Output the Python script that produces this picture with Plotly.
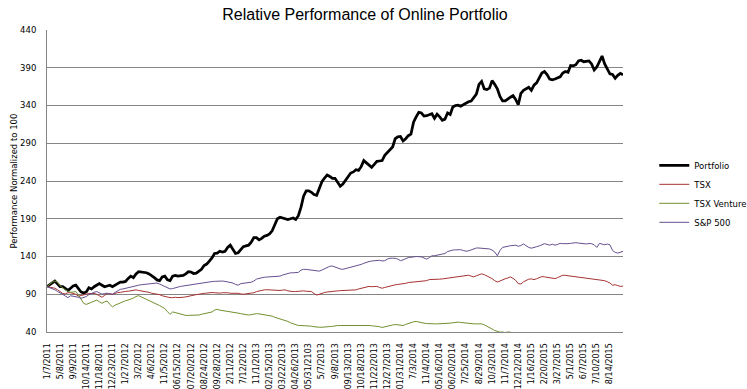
import plotly.graph_objects as go

tick_labels = ["1/7/2011", "5/8/2011", "9/9/2011", "10/14/2011", "11/18/2011", "12/23/2011",
               "1/27/2012", "3/2/2012", "4/6/2012", "11/5/2012", "06/15/2012", "07/20/2012",
               "08/24/2012", "09/28/2012", "2/11/2012", "7/12/2012", "11/1/2013", "02/15/2013",
               "03/22/2013", "04/26/2013", "05/31/2103", "5/7/2013", "9/8/2013", "09/13/2013",
               "10/18/2013", "11/22/2013", "12/27/2013", "01/31/2014", "7/3/2014", "11/4/2014",
               "05/16/2014", "06/20/2014", "7/25/2014", "8/29/2014", "10/3/2014", "11/7/2014",
               "12/12/2014", "1/16/2015", "2/20/2015", "3/27/2015", "5/1/2015", "6/7/2015",
               "7/10/2015", "8/14/2015"]
weeks_per_label = 5

portfolio = [100, 103, 105, 107.5, 104, 100, 100, 98, 95, 98, 101, 102, 97, 93, 91.5, 93, 98.5, 97, 100, 102,
             104, 102, 100, 101, 102, 100, 102, 104.5, 106, 106, 107, 111, 114, 112, 117, 120, 119.5, 119, 118.5, 117,
             115, 112, 109, 108, 113, 114, 109, 108, 114, 115, 114, 114, 115, 117, 120, 119.5, 117.5, 118, 120, 123,
             128, 130, 134, 138, 144, 144.5, 147, 146, 147, 152, 155, 149, 144, 145, 149, 153, 154, 155, 159, 165,
             165, 162, 164, 167, 168, 170, 174, 181, 190, 192, 191, 189, 189, 190, 191, 189, 194, 205, 220, 227,
             227, 225, 222, 221, 229, 239, 244, 248, 246, 243.5, 243.5, 238, 233, 236, 241, 247, 250.5, 252, 255, 254,
             259, 267, 264, 261, 258, 262, 266, 266.5, 267, 274, 278, 281, 285, 296, 298.5, 299, 293, 296, 300, 302,
             318, 325, 331, 330, 326, 326.5, 328, 329, 323, 328.5, 325, 320.5, 322, 330, 328, 338, 340, 340.5, 339, 341,
             343.5, 345, 346, 350, 355, 368, 372, 362, 361, 363, 373, 368, 362, 352, 346, 346, 349, 351, 353, 348,
             341, 356, 360, 362, 364, 360, 367, 370, 377, 383, 385, 381, 375, 374, 375, 376, 378, 383, 385, 384,
             393, 392.5, 394, 399, 400, 398, 399, 399, 395, 387, 391, 398, 405.5, 395, 389, 382, 381, 376, 380, 382.5,
             380.5]

tsx = [100, 99.5, 99, 98, 96, 93.5, 91, 90.5, 92, 92, 91.5, 90, 87.5, 88, 89, 90, 91, 91.3, 91, 90,
       88, 86, 88.5, 91, 90.5, 90, 91, 92.3, 92.5, 93.5, 93.8, 94, 94.5, 95, 95.8, 95, 94.5, 94, 93.6, 92.5,
       91.3, 91, 90.5, 89.5, 88, 87, 86, 85.5, 85.5, 86, 85.5, 85.5, 86, 86.5, 87.5, 88.2, 89, 89.5, 90, 91,
       91.3, 91.5, 92, 92.3, 92, 91.3, 91.5, 92, 92.3, 92, 91.3, 91.5, 91, 91.3, 90.5, 90, 90.5, 91, 91.3, 92,
       93.5, 94.5, 95, 95.8, 96, 95.8, 95.5, 95, 94.5, 95, 95.5, 95.8, 94.5, 93.6, 93.5, 93.6, 94, 94, 94.5, 94,
       94, 93.6, 91, 89, 90, 91.5, 92.3, 93, 93.6, 93.8, 94.2, 94.5, 94.8, 95, 95.3, 95.5, 95.8, 95.8, 95.8, 97,
       98, 99, 99.5, 100.4, 100, 100.4, 100.4, 99, 98, 99, 100, 100.4, 101.5, 102.5, 103, 103.2, 103.5, 104.5, 105.5, 105.8,
       106, 106.2, 106.5, 107, 107.2, 108, 109.4, 109.4, 109, 109.4, 110, 110.3, 110.8, 111, 111.6, 112.5, 113.4, 113.5, 113.5, 113.9,
       114.5, 115.2, 114, 113, 114.5, 116, 117, 116, 114.5, 112.5, 110.7, 108, 106.2, 107.5, 109.4, 110.5, 111.5, 113, 111, 108.5,
       104, 103.5, 106.5, 108, 110, 110.3, 109.4, 110.5, 112, 113.4, 113, 112.5, 112, 111.5, 110.7, 112, 114, 115.2, 115, 114.5,
       113.9, 113.5, 113, 112.5, 112, 111.6, 111, 110.5, 110, 109.8, 109.4, 109, 108.5, 108, 106.5, 105, 102, 102.6, 101.5, 100.4,
       100.8]

tsx_venture = [100, 103, 106, 107.5, 106, 101, 98, 96, 94, 92.7, 93, 93.6, 89, 83, 78, 76.5, 78, 80, 81.5, 82.3,
               80, 78, 80, 81, 76.5, 73.3, 75.5, 77, 79, 80.5, 81.5, 82.3, 83.5, 85, 87, 88.2, 86.5, 85, 83, 81.5,
               80, 78.5, 77, 75, 73, 71, 67, 63.4, 66.6, 65.5, 64.3, 63.5, 62.5, 62, 62, 62.1, 62, 62.1, 62.5, 63.5,
               64.3, 64.5, 65, 66.5, 69, 70, 69, 68.5, 68, 67.5, 67, 66.8, 66, 65, 64.3, 63.5, 62.5, 62.5, 63, 64,
               64.3, 64, 63.5, 63, 62.5, 62.1, 61, 59.5, 58.5, 57.5, 57, 55.5, 54, 52.2, 51, 49.5, 48.6, 48.6, 48.6, 48.6,
               48, 47.7, 47, 46.3, 46.3, 46.3, 46.3, 46.8, 47.2, 47.5, 48.3, 48.6, 48.6, 48.6, 48.8, 48.6, 48.6, 49, 49.4, 49,
               48.6, 48.6, 48.6, 48.6, 48.3, 48, 47.7, 47, 46, 47, 48, 48.6, 49.3, 49.9, 49.5, 49, 48.6, 50, 51.3, 52.5,
               53.5, 54, 53, 52, 51.7, 51.2, 50.8, 50.8, 50.8, 50.8, 50.8, 50.8, 51, 51.4, 51.7, 52.2, 52.7, 53.1, 52.7, 52.2,
               51.8, 51, 50.8, 50.8, 50.8, 50.8, 50.8, 49.5, 48, 46.3, 44, 42, 40.5, 39.8, 40, 39.3, 40, 39.8, 38.5, 37.5,
               37, 36.5, 36.8, 37, 36.5, 36, 36.2, 36.5, 36, 35.5, 35.8, 36, 35.5, 35, 35.3, 35.5, 35, 34.8, 35, 35.2,
               35, 34.5, 34.8, 35, 34.5, 34.2, 34.5, 34, 33.8, 34, 33.5, 33, 33.2, 33.5, 33, 32.5, 32.8, 32.5, 32, 32.2,
               32]

sp500 = [100, 99, 98, 96, 93.6, 92, 90, 87.5, 85.5, 88, 87.5, 87, 86, 84.6, 86, 87, 89.5, 91.3, 92.5, 93.6,
         92, 90, 91, 91.3, 90.5, 90, 92.5, 94.5, 96.5, 97, 98, 98.8, 99.5, 100.5, 101.7, 102, 102.6, 103, 103.5, 103.5,
         103.8, 104.5, 104.9, 103.5, 102, 101, 99, 97, 97.5, 99, 99.5, 100.4, 101, 101.7, 102, 102.6, 103, 103.5, 104.2, 104.9,
         105.3, 105.8, 106.3, 106.8, 107.1, 107.5, 108, 107.5, 107, 106.2, 105.5, 104.9, 103, 102, 104, 104.3, 104.7, 105, 106, 107.5,
         110, 111, 112, 112.5, 112.8, 113, 113, 113, 113, 114, 115.5, 116.5, 117.5, 118.4, 118.4, 118.4, 119, 122, 123, 122.9,
         122.5, 122, 121.5, 121, 120.6, 122, 124, 125.5, 127, 127.4, 126, 124.5, 123.5, 123, 123.8, 125, 125.8, 126.8, 127.6, 128.3,
         129.5, 131, 132.5, 133.3, 134, 134.5, 134.8, 135, 134, 134.5, 136.5, 137.7, 137.7, 137.7, 136.5, 134.5, 135.5, 137, 138.6, 139,
         139.8, 140, 139.8, 139.5, 138, 136.5, 138.5, 140.9, 141, 141.5, 142, 142.8, 144, 146.5, 148, 148.6, 148.8, 149, 149, 148,
         147, 147.5, 148.5, 150, 151.3, 151.2, 151, 150.8, 150.3, 150, 148.5, 146, 141, 148, 152, 153, 153.5, 154.3, 154.6, 155,
         153.5, 154.5, 156.6, 154, 152, 151, 151.5, 153, 154, 155, 157, 156, 155, 156.3, 155, 156, 157.4, 157, 156.6, 157,
         157.4, 158, 158.3, 157.8, 157.4, 157, 156.6, 157.2, 157, 155.5, 152, 157.4, 156, 155.5, 156.5, 155.5, 148, 145.5, 144.5, 145.5,
         146.8]

series = [
    ("Portfolio", portfolio, "#000000", 2.75),
    ("TSX", tsx, "#A83232", 1),
    ("TSX Venture", tsx_venture, "#72902F", 1),
    ("S&P 500", sp500, "#65518F", 1),
]

n = len(portfolio)
weeks = list(range(n))
tickvals = [i * weeks_per_label for i in range(len(tick_labels))]

fig = go.Figure()
for name, vals, color, width in series:
    fig.add_trace(go.Scatter(x=weeks, y=vals, mode="lines", name=name,
                             line=dict(color=color, width=width)))

W, H = 747, 389
L, R, T, B = 46.5, 124.3, 30.3, 57
pw = W - L - R
ph = H - T - B

fig.update_layout(
    width=W, height=H,
    margin=dict(l=L, r=R, t=T, b=B, pad=0, autoexpand=False),
    paper_bgcolor="white", plot_bgcolor="white",
    font=dict(family="DejaVu Sans", size=8.5, color="#000000"),
    title=dict(text="Relative Performance of Online Portfolio", x=365 / W, xref="container",
               y=1 - 14 / H, yref="container", xanchor="center", yanchor="middle",
               font=dict(family="Liberation Sans", size=16, color="#000000")),
    showlegend=True,
    legend=dict(x=(654 - L) / pw, y=(H - B - 151) / ph, xanchor="left", yanchor="top",
                bgcolor="rgba(0,0,0,0)", font=dict(size=8.5), tracegroupgap=0),
    xaxis=dict(range=[0, n - 1], tickmode="array", tickvals=tickvals, ticktext=tick_labels,
               tickangle=-90, tickfont=dict(size=8), showgrid=False, zeroline=False, automargin=False,
               showline=True, linecolor="#868686", linewidth=1, ticks="", ticklabelstandoff=7),
    yaxis=dict(range=[40, 440], dtick=50, tick0=40, showgrid=True, gridcolor="#868686", gridwidth=1,
               zeroline=False, showline=True, linecolor="#868686", linewidth=1, ticks="", automargin=False,
               tickfont=dict(size=8.5), ticklabelstandoff=8),
)

fig.add_annotation(text="Performance Normalized to 100", xref="paper", yref="paper",
                   x=(13 - L) / pw, y=0.5, textangle=-90, showarrow=False,
                   xanchor="center", yanchor="middle", font=dict(size=8.5, color="#000000"))

fig.write_html("out.html", post_script="document.body.style.margin='0';",
               config={"displayModeBar": False})
